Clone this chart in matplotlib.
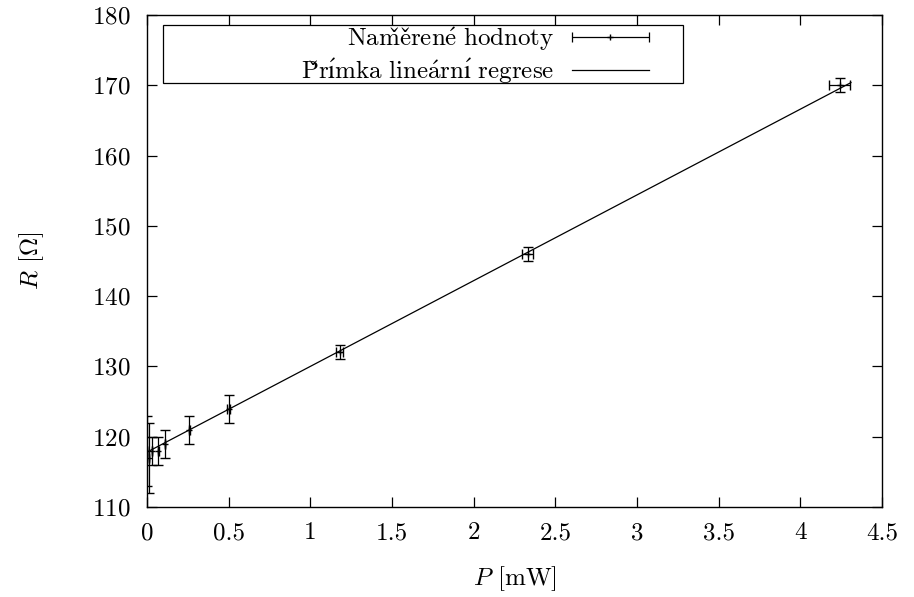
import matplotlib
matplotlib.use("Agg")
import matplotlib.pyplot as plt
from matplotlib.container import ErrorbarContainer
from matplotlib.legend_handler import HandlerErrorbar
from matplotlib.patches import Rectangle
import numpy as np

plt.rcParams['font.family'] = ['cmr10', 'DejaVu Serif']
plt.rcParams['mathtext.fontset'] = 'cm'
plt.rcParams['axes.formatter.use_mathtext'] = True
plt.rcParams['font.size'] = 18

# measured values
P = [0.0, 0.015, 0.03, 0.07, 0.11, 0.26, 0.5, 1.18, 2.33, 4.24]      # mW
R = [118, 117, 118, 118, 119, 121, 124, 132, 146, 170]              # Ohm
P_err = [0.0, 0.0, 0.0, 0.001, 0.002, 0.004, 0.008, 0.02, 0.036, 0.062]
R_err = [5, 5, 2, 2, 2, 2, 2, 1, 1, 1]

# linear regression line (R = a + b*P)
fit_a = 117.8
fit_b = 12.2
fit_range = [0.0, 4.31]

labels = [r'$\mathrm{Nam\check{e}\check{r}en\acute{e}\ hodnoty}$',
          r'$\mathrm{P\check{r}\acute{ı}mka\ line\acute{a}rn\acute{ı}\ regrese}$']

fig = plt.figure(figsize=(9.14, 5.97), dpi=100)
ax = fig.add_axes([0.1608, 0.1508, 0.8042, 0.8241])

ax.errorbar(P, R, xerr=P_err, yerr=R_err, fmt='+', color='black', ms=5,
            elinewidth=0.9, capsize=3.5, capthick=0.9, markeredgewidth=1.0)

xf = np.linspace(fit_range[0], fit_range[1], 2)
ax.plot(xf, fit_a + fit_b*xf, color='black', lw=0.9)

# proxies for gnuplot-like legend
h1 = ax.errorbar([np.nan], [np.nan], xerr=[1.0], fmt='+', color='black',
                 ms=5, elinewidth=0.9, capsize=3.5, capthick=0.9)
h2, = ax.plot([np.nan], [np.nan], color='black', lw=0.9)

leg = ax.legend([h1, h2], labels,
                loc='upper right', bbox_to_anchor=(0.69, 0.99),
                markerfirst=False, handlelength=3.1, frameon=False,
                borderpad=0.2, labelspacing=0.15, handletextpad=0.7,
                borderaxespad=0, fontsize=18,
                handler_map={ErrorbarContainer: HandlerErrorbar(xerr_size=1.55)})
ax.add_patch(Rectangle((0.0218, 0.861), 0.7072, 0.119, transform=ax.transAxes,
                       fill=False, edgecolor='black', lw=0.9, zorder=5))

ax.set_xlim(0, 4.5)
ax.set_ylim(110, 180)
ax.set_xticks(np.arange(0, 4.51, 0.5))
ax.set_xticklabels(['0', '0.5', '1', '1.5', '2', '2.5', '3', '3.5', '4', '4.5'])
ax.set_yticks(np.arange(110, 181, 10))
ax.tick_params(direction='in', top=True, right=True, length=7, width=0.9,
               labelsize=18)
ax.tick_params(axis='x', pad=11)
ax.tick_params(axis='y', pad=12)
for s in ax.spines.values():
    s.set_linewidth(1.0)

ax.set_xlabel('$P$ [mW]', labelpad=14)
ax.set_ylabel(r'$R$ [$\Omega$]', labelpad=33)

fig.savefig('out.png', dpi=100)
